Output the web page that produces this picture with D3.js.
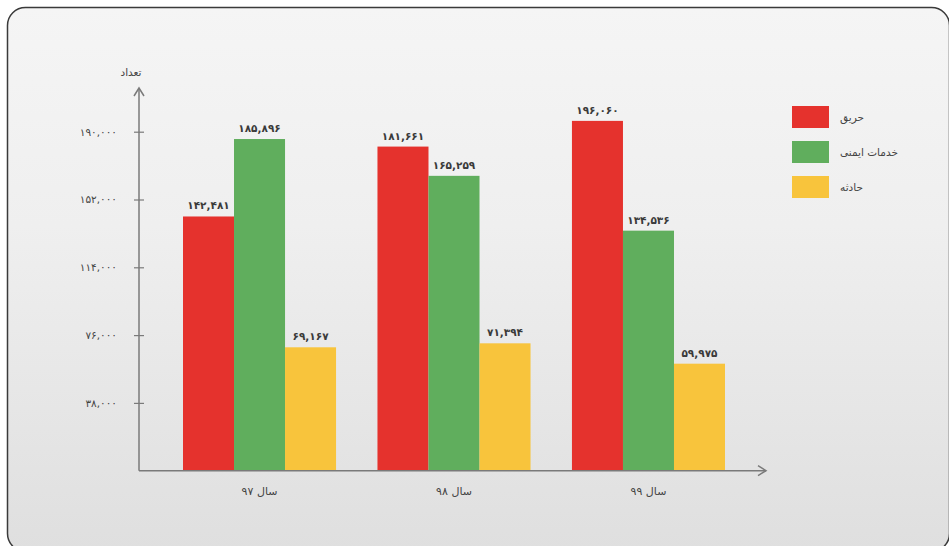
<!DOCTYPE html>
<html><head><meta charset="utf-8">
<script src="https://cdn.jsdelivr.net/npm/d3@7"></script>
<style>html,body{margin:0;padding:0;background:#fff}svg{display:block}text{font-family:"DejaVu Sans",sans-serif}</style>
</head><body>
<svg id="c" width="949" height="546"></svg>
<script>
const categories = ["سال ۹۷", "سال ۹۸", "سال ۹۹"];
const seriesNames = ["حریق", "خدمات ایمنی", "حادثه"];
const fire = [142481, 181661, 196060];
const safety = [185896, 165259, 134536];
const accident = [69167, 71394, 59975];
const yTicks = [38000, 76000, 114000, 152000, 190000];
const colors = ["#e5322d", "#60ae5d", "#f8c43c"];
const yTitle = "تعداد";

const series = [fire, safety, accident];
const svg = d3.select("#c");
const defs = svg.append("defs");
const g = defs.append("linearGradient").attr("id","bg").attr("x1",0).attr("y1",0).attr("x2",0).attr("y2",1);
g.append("stop").attr("offset","0%").attr("stop-color","#f5f5f5");
g.append("stop").attr("offset","40%").attr("stop-color","#efefef");
g.append("stop").attr("offset","100%").attr("stop-color","#dfdfdf");
svg.append("rect").attr("x",7.5).attr("y",7.5).attr("width",942).attr("height",544).attr("rx",18)
  .attr("fill","url(#bg)").attr("stroke","#3a3a3a").attr("stroke-width",1.5);

const fa = s => String(s).replace(/\d/g, d => "۰۱۲۳۴۵۶۷۸۹"[d]);
const fmt = v => fa(d3.format(",")(v));

const x0 = 139, y0 = 470.7;
const x = d3.scaleBand().domain(categories).range([183, 725]).paddingInner(0.213).paddingOuter(0);
const xs = d3.scaleBand().domain(seriesNames).range([0, x.bandwidth()]);
const y = d3.scaleLinear().domain([0, 190000]).range([y0, 131.7]);

// bars
categories.forEach((c, i) => {
  series.forEach((s, j) => {
    const bx = x(c) + xs(seriesNames[j]);
    svg.append("rect").attr("x", bx).attr("y", y(s[i])).attr("width", xs.bandwidth()).attr("height", y(0) - y(s[i])).attr("fill", colors[j]);
    svg.append("text").attr("x", bx + xs.bandwidth()/2).attr("y", y(s[i]) - 7).attr("text-anchor","middle")
      .attr("font-size", 10.5).attr("font-weight","bold").attr("fill","#3a3a3a").text(fmt(s[i]));
  });
});

// y axis
const ax = "#7a7a7a";
svg.append("line").attr("x1",x0).attr("x2",x0).attr("y1",y0).attr("y2",88).attr("stroke",ax).attr("stroke-width",1.5);
svg.append("path").attr("d",`M${x0-5},${96} L${x0},${88} L${x0+5},${96}`).attr("fill","none").attr("stroke",ax).attr("stroke-width",1.5);
const yAxis = d3.axisLeft(y).tickValues(yTicks).tickSize(0).tickFormat(fmt);
const ya = svg.append("g").attr("transform",`translate(${x0},0)`).call(yAxis);
ya.select(".domain").remove();
ya.selectAll(".tick line").remove();
ya.selectAll(".tick").append("line").attr("x1",-5).attr("x2",5).attr("stroke",ax).attr("stroke-width",1.2);
ya.selectAll(".tick text").attr("x",-22).attr("font-size",10.5).attr("fill","#444").attr("font-family","DejaVu Sans");
svg.append("text").attr("x",x0-8).attr("y",76).attr("text-anchor","middle").attr("font-size",10.5).attr("fill","#444").text(yTitle);

// x axis
svg.append("line").attr("x1",x0).attr("x2",766).attr("y1",y0).attr("y2",y0).attr("stroke",ax).attr("stroke-width",1.5);
svg.append("path").attr("d",`M${758},${y0-5} L${766},${y0} L${758},${y0+5}`).attr("fill","none").attr("stroke",ax).attr("stroke-width",1.5);
const xAxis = d3.axisBottom(x).tickSize(0);
const xa = svg.append("g").attr("transform",`translate(0,${y0})`).call(xAxis);
xa.select(".domain").remove();
xa.selectAll(".tick text").attr("y",17).attr("font-size",11).attr("fill","#444").attr("font-family","DejaVu Sans");

// legend
seriesNames.forEach((n, j) => {
  const ly = 106 + j*35;
  svg.append("rect").attr("x",792).attr("y",ly).attr("width",37).attr("height",22).attr("fill",colors[j]);
  svg.append("text").attr("x",840).attr("y",ly+15).attr("font-size",10.5).attr("fill","#444").attr("direction","rtl").attr("text-anchor","end").text(n);
});
</script>
</body></html>
